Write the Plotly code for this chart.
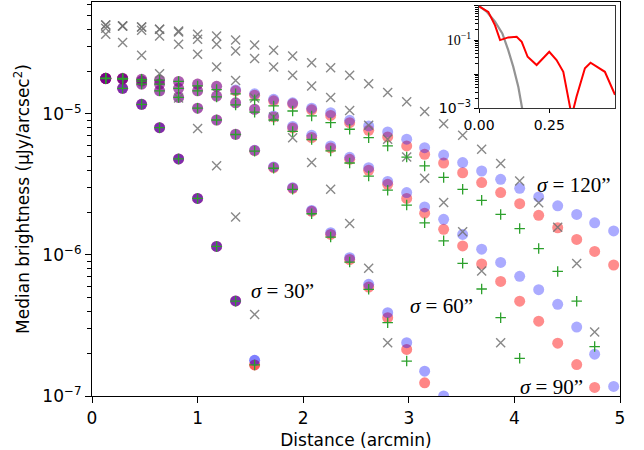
import plotly.graph_objects as go

# ---------------- data ----------------
x_bins = [0.13, 0.29, 0.47, 0.64, 0.82, 1.00, 1.18, 1.36, 1.54, 1.72, 1.90, 2.08, 2.26, 2.44,
          2.62, 2.80, 2.98, 3.15, 3.33, 3.51, 3.69, 3.87, 4.05, 4.23, 4.41, 4.59, 4.76, 4.94]

# sigma = 30"
s30_blue = [1.78e-5, 1.52e-5, 1.17e-5, 8.0e-6, 4.80e-6, 2.52e-6, 1.15e-6, 4.72e-7, 1.79e-7]
s30_red = [1.78e-5, 1.52e-5, 1.17e-5, 8.0e-6, 4.80e-6, 2.52e-6, 1.15e-6, 4.72e-7, 1.66e-7]
s30_green = [1.78e-5, 1.52e-5, 1.17e-5, 8.0e-6, 4.80e-6, 2.52e-6, 1.15e-6, 4.70e-7, 1.66e-7]
s30_gray = [3.67e-5, 3.21e-5, 2.61e-5, 1.93e-5, 1.30e-5, 7.89e-6, 4.30e-6, 1.86e-6, 3.79e-7]

# sigma = 60"
s60_blue = [1.79e-5, 1.77e-5, 1.63e-5, 1.46e-5, 1.31e-5, 1.10e-5, 9.06e-6, 7.18e-6, 5.53e-6,
            4.21e-6, 3.00e-6, 2.07e-6, 1.44e-6, 9.57e-7, 6.19e-7, 3.90e-7, 2.39e-7, 1.50e-7, 1.0e-7]
s60_red = [1.79e-5, 1.77e-5, 1.63e-5, 1.46e-5, 1.31e-5, 1.10e-5, 9.06e-6, 7.18e-6, 5.50e-6,
           4.17e-6, 2.97e-6, 2.04e-6, 1.40e-6, 9.29e-7, 5.93e-7, 3.59e-7, 2.14e-7, 1.24e-7]
s60_green = [1.79e-5, 1.77e-5, 1.63e-5, 1.46e-5, 1.31e-5, 1.10e-5, 9.06e-6, 7.15e-6, 5.45e-6,
             4.12e-6, 2.92e-6, 1.96e-6, 1.34e-6, 8.91e-7, 5.71e-7, 3.31e-7, 1.77e-7]
s60_gray = [4.05e-5, 4.21e-5, 3.93e-5, 3.57e-5, 3.12e-5, 2.65e-5, 2.15e-5, 1.73e-5, 1.30e-5,
            9.52e-6, 6.79e-6, 4.52e-6, 2.92e-6, 1.67e-6, 8.05e-7, 2.39e-7]

# sigma = 90"
s90_blue = [1.79e-5, 1.78e-5, 1.71e-5, 1.63e-5, 1.52e-5, 1.46e-5, 1.34e-5, 1.20e-5, 1.08e-5,
            9.68e-6, 8.15e-6, 7.05e-6, 5.93e-6, 4.93e-6, 4.16e-6, 3.32e-6, 2.77e-6, 2.19e-6,
            1.79e-6, 1.40e-6, 1.10e-6, 8.85e-7, 7.06e-7, 5.67e-7, 4.47e-7, 3.08e-7, 1.98e-7, 1.17e-7]
s90_red = [1.79e-5, 1.78e-5, 1.71e-5, 1.63e-5, 1.52e-5, 1.46e-5, 1.34e-5, 1.20e-5, 1.08e-5,
           9.52e-6, 7.96e-6, 6.81e-6, 5.74e-6, 4.77e-6, 3.99e-6, 3.17e-6, 2.52e-6, 1.98e-6,
           1.52e-6, 1.16e-6, 8.63e-7, 6.49e-7, 4.70e-7, 3.39e-7, 2.37e-7, 1.67e-7, 1.15e-7]
s90_green = [1.79e-5, 1.78e-5, 1.71e-5, 1.63e-5, 1.52e-5, 1.46e-5, 1.32e-5, 1.16e-5, 1.03e-5,
             9.06e-6, 7.52e-6, 6.59e-6, 5.47e-6, 4.49e-6, 3.63e-6, 2.88e-6, 2.26e-6, 1.69e-6,
             1.26e-6, 8.73e-7, 5.74e-7, 3.59e-7, 1.85e-7]
s90_gray = [4.28e-5, 4.21e-5, 4.14e-5, 3.99e-5, 3.82e-5, 3.39e-5, 3.12e-5, 2.80e-5, 2.47e-5,
            2.15e-5, 1.88e-5, 1.58e-5, 1.31e-5, 1.06e-5, 8.31e-6, 6.62e-6, 4.95e-6, 3.50e-6,
            2.36e-6, 1.46e-6, 7.71e-7, 2.39e-7]

# sigma = 120"
s120_blue = [1.79e-5, 1.79e-5, 1.76e-5, 1.74e-5, 1.70e-5, 1.63e-5, 1.57e-5, 1.48e-5, 1.39e-5,
             1.27e-5, 1.20e-5, 1.10e-5, 1.02e-5, 9.02e-6, 8.22e-6, 7.45e-6, 6.62e-6, 5.77e-6,
             5.11e-6, 4.52e-6, 3.94e-6, 3.44e-6, 2.97e-6, 2.58e-6, 2.23e-6, 1.94e-6, 1.69e-6, 1.48e-6]
s120_red = [1.79e-5, 1.79e-5, 1.76e-5, 1.74e-5, 1.70e-5, 1.63e-5, 1.57e-5, 1.46e-5, 1.36e-5,
            1.24e-5, 1.18e-5, 1.07e-5, 9.76e-6, 8.67e-6, 7.66e-6, 6.87e-6, 5.93e-6, 5.18e-6,
            4.49e-6, 3.83e-6, 3.26e-6, 2.77e-6, 2.31e-6, 1.91e-6, 1.56e-6, 1.29e-6, 1.06e-6, 8.49e-7]
s120_green = [1.79e-5, 1.79e-5, 1.76e-5, 1.74e-5, 1.70e-5, 1.58e-5, 1.49e-5, 1.39e-5, 1.26e-5,
              1.14e-5, 1.05e-5, 9.68e-6, 8.67e-6, 7.79e-6, 6.79e-6, 5.93e-6, 4.95e-6, 4.28e-6,
              3.55e-6, 2.92e-6, 2.44e-6, 1.94e-6, 1.54e-6, 1.11e-6, 7.64e-7, 4.70e-7, 2.24e-7]
s120_gray = [4.28e-5, 4.21e-5, 4.14e-5, 3.99e-5, 3.88e-5, 3.67e-5, 3.57e-5, 3.34e-5, 3.08e-5,
             2.83e-5, 2.58e-5, 2.31e-5, 2.13e-5, 1.88e-5, 1.64e-5, 1.42e-5, 1.22e-5, 1.04e-5,
             8.53e-6, 7.06e-6, 5.62e-6, 4.45e-6, 3.35e-6, 2.35e-6, 1.57e-6, 8.71e-7, 2.84e-7]

sigma_labels = ['σ = 30”', 'σ = 60”', 'σ = 90”', 'σ = 120”']

y_major_vals = [1e-7, 1e-6, 1e-5]
y_major_text = ['10<sup>−7</sup>', '10<sup>−6</sup>', '10<sup>−5</sup>']

# inset curves
inset_gray_x = [0.0, 0.027, 0.057, 0.083, 0.104, 0.122, 0.140, 0.152, 0.160]
inset_gray_y = [1.0, 0.68, 0.345, 0.157, 0.0508, 0.0164, 0.00423, 0.001, 0.0005]
inset_red_x = [0.0, 0.033, 0.057, 0.075, 0.104, 0.134, 0.152, 0.173, 0.205, 0.25, 0.276,
               0.30, 0.33, 0.347, 0.377, 0.397, 0.448, 0.484]
inset_red_y = [0.97, 0.67, 0.27, 0.10, 0.12, 0.125, 0.089, 0.0325, 0.0186, 0.0455, 0.026,
               0.0118, 0.0006, 0.0022, 0.0149, 0.0217, 0.0118, 0.0025]

# ---------------- figure ----------------
fig = go.Figure()

groups = [
    (s30_blue, s30_red, s30_green, s30_gray, 0.5, 0.65),
    (s60_blue, s60_red, s60_green, s60_gray, 0.36, 0.48),
    (s90_blue, s90_red, s90_green, s90_gray, 0.33, 0.45),
    (s120_blue, s120_red, s120_green, s120_gray, 0.33, 0.45),
]

for blue, red, green, gray, ab, ar in groups:
    fig.add_trace(go.Scatter(x=x_bins[:len(red)], y=red, mode='markers',
                             marker=dict(symbol='circle', size=11, color='red', opacity=ar,
                                         line=dict(width=0))))
    fig.add_trace(go.Scatter(x=x_bins[:len(blue)], y=blue, mode='markers',
                             marker=dict(symbol='circle', size=11, color='blue', opacity=ab,
                                         line=dict(width=0))))
for blue, red, green, gray, ab, ar in groups:
    fig.add_trace(go.Scatter(x=x_bins[:len(green)], y=green, mode='markers',
                             marker=dict(symbol='cross-thin', size=7.5, color='#2ca02c',
                                         line=dict(width=1.3, color='#2ca02c'))))
    fig.add_trace(go.Scatter(x=x_bins[:len(gray)], y=gray, mode='markers',
                             marker=dict(symbol='x-thin', size=9, color='rgba(115,115,115,0.85)',
                                         line=dict(width=1.4, color='rgba(115,115,115,0.85)'))))

# inset
fig.add_trace(go.Scatter(x=inset_gray_x, y=inset_gray_y, mode='lines', xaxis='x2', yaxis='y2',
                         line=dict(color='rgba(120,120,120,0.8)', width=2.2)))
fig.add_trace(go.Scatter(x=inset_red_x, y=inset_red_y, mode='lines', xaxis='x2', yaxis='y2',
                         line=dict(color='red', width=2)))

# sigma labels
label_pos = [(1.80, -6.255), (3.31, -6.362), (4.35, -6.936), (4.56, -5.504)]
for txt, (lx, ly) in zip(sigma_labels, label_pos):
    fig.add_annotation(x=lx, y=ly, xref='x', yref='y', showarrow=False,
                       text=txt.replace('σ', '<i>σ</i>'),
                       font=dict(family='Liberation Serif', size=21, color='black'))

minor_main = [m * 10.0 ** e for e in (-7, -6, -5) for m in range(2, 10)]
minor_inset = [m * 10.0 ** e for e in (-3, -2, -1) for m in range(2, 10)]

fig.update_layout(
    width=644, height=450,
    margin=dict(l=92, r=24, t=2, b=54),
    paper_bgcolor='white', plot_bgcolor='white',
    showlegend=False,
    font=dict(family='DejaVu Sans', size=16, color='black'),
    xaxis=dict(range=[0, 5], dtick=1, tick0=0, ticks='outside', ticklen=6, tickwidth=1,
               tickcolor='black', showline=True, mirror=True, linecolor='black', linewidth=1.2,
               showgrid=False, zeroline=False, tickfont=dict(size=17), automargin=False,
               title=dict(text='Distance (arcmin)', font=dict(size=17), standoff=9)),
    yaxis=dict(type='log', range=[-7, -4.206], tickvals=y_major_vals, ticktext=y_major_text,
               ticks='outside', ticklen=6, tickwidth=1, tickcolor='black',
               showline=True, mirror=True, linecolor='black', linewidth=1.2,
               showgrid=False, zeroline=False, tickfont=dict(size=17), automargin=False,
               minor=dict(ticks='outside', ticklen=3.5, tickcolor='black', tickvals=minor_main,
                          showgrid=False),
               title=dict(text='Median brightness (μJy/arcsec<sup>2</sup>)', font=dict(size=17),
                          standoff=8)),
    xaxis2=dict(domain=[0.733, 0.9905], anchor='y2', range=[0, 0.484],
                tickvals=[0, 0.25], ticktext=['0.00', '0.25'], ticks='outside', ticklen=4,
                tickcolor='black', showline=True, mirror=True, linecolor='#333', linewidth=1.2,
                showgrid=False, zeroline=False, tickfont=dict(size=14), automargin=False),
    yaxis2=dict(domain=[0.730, 0.990], anchor='x2', type='log', range=[-3, 0],
                tickvals=[1e-3, 1e-2, 1e-1, 1],
                ticktext=['10<sup>−3</sup>', '',
                          '<span style="font-family:Liberation Serif">10<sup>−1</sup></span>', ''],
                ticks='outside', ticklen=4, tickcolor='black', showline=True, mirror=True,
                linecolor='#333', linewidth=1.2, showgrid=False, zeroline=False,
                tickfont=dict(size=14), automargin=False,
                minor=dict(ticks='outside', ticklen=2.5, tickcolor='black',
                           tickvals=minor_inset, showgrid=False)),
)

fig.write_html('out.html', config={'displayModeBar': False},
               post_script="document.body.style.margin='0';document.body.style.overflow='hidden';")
